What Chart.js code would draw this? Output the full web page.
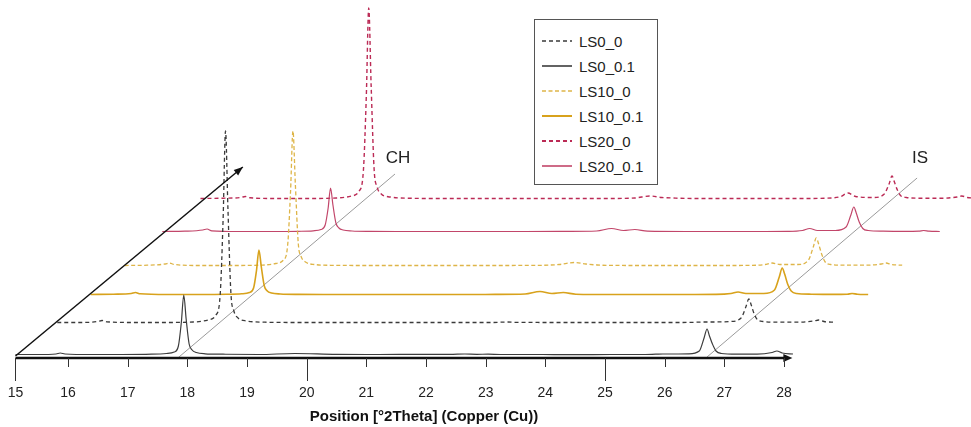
<!DOCTYPE html>
<html>
<head>
<meta charset="utf-8">
<script src="https://cdn.jsdelivr.net/npm/chart.js@4.4.1/dist/chart.umd.min.js"></script>
<style>
  body { margin: 0; background: #fff; }
  #wrap { position: relative; width: 971px; height: 427px; }
  #legend {
    position: absolute; left: 534px; top: 19px; width: 122px; height: 164px;
    border: 1px solid #555; background: #fff;
    font: 15px "Liberation Sans", Arial, sans-serif; color: #222;
  }
  #legend .item { position: absolute; left: 7px; height: 18px; display: flex; align-items: center; white-space: nowrap; }
  #legend svg { margin-right: 7px; }
</style>
</head>
<body>
<div id="wrap">
  <canvas id="chart" width="971" height="427"></canvas>
  <div id="legend"></div>
</div>
<script>
// position 2theta commune a toutes les courbes
const TWO_THETA = [15.12, 15.50, 15.80, 15.87, 15.95, 16.40, 16.90, 17.40, 17.65, 17.78,
                   17.85, 17.90, 17.94, 17.98, 18.03, 18.08, 18.15, 18.30, 18.60, 19.20,
                   19.80, 20.50, 21.20, 21.90, 22.40, 22.65, 22.85, 23.04, 23.25, 23.90,
                   24.50, 25.10, 25.60, 25.85, 25.97, 26.10, 26.40, 26.58, 26.66, 26.71,
                   26.75, 26.80, 26.86, 26.95, 27.20, 27.55, 27.80, 27.88, 27.97, 28.15];

// intensites (unites arbitraires, sans decalage)
const LS0_0 =    [0.5, 0.5, 1.5, 2.5, 1.2, 0.5, 0.5, 1, 3, 8,
                  28, 105, 192, 115, 30, 12, 5, 2, 0.8, 0.5,
                  0.5, 0.5, 0.5, 0.5, 0.5, 1, 0.6, 0.6, 0.5, 0.5,
                  0.5, 0.5, 0.5, 0.8, 1, 1, 1.5, 5, 16, 24,
                  18, 9, 3, 1.5, 0.8, 0.8, 2, 3, 1.5, 0.8];
const LS0_01 =   [0.5, 0.5, 1, 2, 1, 0.5, 0.5, 0.8, 1.5, 3,
                  9, 33, 60, 36, 11, 5, 2.5, 1.2, 0.8, 0.5,
                  1.5, 0.6, 0.5, 0.6, 0.6, 1, 0.7, 0.8, 0.5, 0.5,
                  0.4, 0.5, 0.5, 0.8, 1, 1, 1.2, 4, 17, 26,
                  19, 11, 4, 1.5, 0.8, 0.8, 2.5, 4, 2, 1];
const LS10_0 =   [0.5, 0.8, 2, 3, 1.5, 0.5, 0.5, 0.8, 2.5, 6,
                  20, 75, 135, 82, 22, 9, 4, 1.5, 0.7, 0.5,
                  0.5, 0.5, 0.5, 0.6, 1.5, 3.5, 2, 1, 0.6, 0.5,
                  0.5, 0.5, 0.6, 1.5, 3, 1.5, 1.5, 6, 19, 28,
                  22, 12, 4, 1.5, 0.8, 0.8, 2, 3, 1.5, 0.8];
const LS10_01 =  [0.5, 0.8, 1.5, 2.5, 1.2, 0.5, 0.5, 0.7, 1.2, 2.5,
                  7, 25, 45, 28, 9, 4, 2, 1, 0.6, 0.5,
                  0.5, 0.5, 0.5, 0.6, 1, 3.5, 1.5, 2.5, 0.8, 0.5,
                  0.5, 0.5, 0.6, 1.5, 3, 1.5, 1.5, 5, 18, 27,
                  21, 11, 4, 1.5, 0.8, 0.6, 0.8, 1.5, 0.8, 0.5];
const LS20_0 =   [0.5, 0.8, 1.5, 2.5, 1.2, 0.5, 0.5, 1, 3, 8,
                  28, 104, 191, 114, 30, 12, 5, 2, 0.8, 0.5,
                  0.5, 0.5, 0.5, 0.5, 1, 3, 1.5, 1, 0.6, 0.5,
                  0.5, 0.5, 0.8, 2.5, 6, 2.5, 1.5, 5, 15, 23,
                  17, 9, 3, 1.5, 0.8, 0.8, 2, 3, 1.5, 0.8];
const LS20_01 =  [0.5, 0.8, 2, 3, 1.2, 0.5, 0.5, 0.7, 1.2, 2.5,
                  7, 24, 44, 27, 9, 4, 2, 1, 0.6, 0.5,
                  0.5, 0.5, 0.5, 0.6, 1, 3.5, 1.5, 2.5, 0.8, 0.5,
                  0.5, 0.5, 0.6, 1.5, 3.5, 1.5, 1.5, 5, 17, 25,
                  19, 10, 3.5, 1.5, 0.8, 0.6, 0.8, 1.5, 0.8, 0.5];

const SERIES_NAMES = ['LS0_0', 'LS0_0.1', 'LS10_0', 'LS10_0.1', 'LS20_0', 'LS20_0.1'];
const SERIES_VALUES = [LS0_0, LS0_01, LS10_0, LS10_01, LS20_0, LS20_01];
const STACK_POS = [1, 0, 3, 2, 5, 4];   // rang dans la perspective

// decalage de chaque rang (en degres et en intensite)
const X_SHIFT = [0, 0.70, 1.26, 1.83, 2.46, 3.10];
const Y_SHIFT = [3, 35, 63, 92, 126, 159];

// axe
const TICK_VALUES = [15.12, 16, 17, 18, 19, 20, 21, 22, 23, 24, 25, 26, 27, 28];
const MAJOR_TICKS = [15, 20, 25];
const AXIS_END = 28.14;
const X_TITLE = 'Position [°2Theta] (Copper (Cu))';

// reperes CH / IS et fleche de profondeur
const GUIDE_LABELS = ['CH', 'IS'];
const GUIDE_X = [[17.84, 21.48], [26.71, 30.23]];
const GUIDE_Y = [[0, 184], [1, 180]];
const GUIDE_TEXT_X = [21.53, 30.28];
const GUIDE_TEXT_Y = [200, 200];
const ARROW_X = [15.12, 18.93];
const ARROW_Y = [2, 191];

const STYLES = [
    { color: '#3a3a3a', dash: [4, 3], width: 1.3 },
    { color: '#3c3c3c', dash: [], width: 1.2 },
    { color: '#deb548', dash: [4, 2.5], width: 1.3 },
    { color: '#d8a21c', dash: [], width: 1.6 },
    { color: '#bb2a55', dash: [4, 3], width: 1.4 },
    { color: '#c2466a', dash: [], width: 1.2 },
]

const FONT = '"Liberation Sans", Arial, sans-serif';
Chart.defaults.font.family = FONT;

/** Construit une courbe decalee */
function shiftedTrace( values, pos ) {
    return TWO_THETA.map( ( t, i ) => ( { x: t + X_SHIFT[ pos ], y: values[ i ] + Y_SHIFT[ pos ] } ) )
}

let datasets = SERIES_NAMES.map( ( name, i ) => ( {
    label: name,
    data: shiftedTrace( SERIES_VALUES[ i ], STACK_POS[ i ] ),
    borderColor: STYLES[ i ].color,
    borderDash: STYLES[ i ].dash,
    borderWidth: STYLES[ i ].width,
    pointRadius: 0,
    cubicInterpolationMode: 'monotone',
    clip: false,
    order: STACK_POS[ i ],
} ) )

GUIDE_LABELS.forEach( ( g, k ) => {
    datasets.push( {
        label: g,
        guide: true,
        data: [ { x: GUIDE_X[ k ][ 0 ], y: GUIDE_Y[ k ][ 0 ] }, { x: GUIDE_X[ k ][ 1 ], y: GUIDE_Y[ k ][ 1 ] } ],
        borderColor: '#9a9a9a',
        borderWidth: 1,
        pointRadius: 0,
        clip: false,
        order: 10,
    } )
} )

// axe, graduations, fleche et textes CH / IS
const xrdDecor = {
    id: 'xrdDecor',
    afterDatasetsDraw( chart ) {
        const ctx = chart.ctx
        const xs = chart.scales.x, ys = chart.scales.y
        const y0 = ys.getPixelForValue( 0 )
        ctx.save()

        // fleche de profondeur
        const ax0 = xs.getPixelForValue( ARROW_X[ 0 ] ), ay0 = ys.getPixelForValue( ARROW_Y[ 0 ] )
        const ax1 = xs.getPixelForValue( ARROW_X[ 1 ] ), ay1 = ys.getPixelForValue( ARROW_Y[ 1 ] )
        ctx.strokeStyle = '#111'
        ctx.fillStyle = '#111'
        ctx.lineWidth = 1.5
        ctx.beginPath()
        ctx.moveTo( ax0, ay0 )
        ctx.lineTo( ax1, ay1 )
        ctx.stroke()
        const ang = Math.atan2( ay1 - ay0, ax1 - ax0 )
        ctx.beginPath()
        ctx.moveTo( ax1, ay1 )
        ctx.lineTo( ax1 - 9 * Math.cos( ang ) + 3.5 * Math.sin( ang ), ay1 - 9 * Math.sin( ang ) - 3.5 * Math.cos( ang ) )
        ctx.lineTo( ax1 - 9 * Math.cos( ang ) - 3.5 * Math.sin( ang ), ay1 - 9 * Math.sin( ang ) + 3.5 * Math.cos( ang ) )
        ctx.closePath()
        ctx.fill()

        // axe x
        const xa = xs.getPixelForValue( TICK_VALUES[ 0 ] ), xb = xs.getPixelForValue( AXIS_END )
        ctx.lineWidth = 2.5
        ctx.beginPath()
        ctx.moveTo( xa, y0 )
        ctx.lineTo( xb - 6, y0 )
        ctx.stroke()
        ctx.beginPath()
        ctx.moveTo( xb, y0 )
        ctx.lineTo( xb - 9, y0 - 4 )
        ctx.lineTo( xb - 9, y0 + 4 )
        ctx.closePath()
        ctx.fill()

        // graduations
        ctx.lineWidth = 1
        ctx.strokeStyle = '#333'
        TICK_VALUES.forEach( v => {
            const px = Math.round( xs.getPixelForValue( v ) ) + 0.5
            const major = MAJOR_TICKS.includes( Math.round( v ) )
            ctx.beginPath()
            ctx.moveTo( px, y0 )
            ctx.lineTo( px, y0 + ( major ? 23 : 9 ) )
            ctx.stroke()
        } )

        // textes CH / IS
        ctx.fillStyle = '#222'
        ctx.font = '17px ' + FONT
        ctx.textAlign = 'center'
        ctx.textBaseline = 'middle'
        GUIDE_LABELS.forEach( ( g, k ) => {
            ctx.fillText( g, xs.getPixelForValue( GUIDE_TEXT_X[ k ] ), ys.getPixelForValue( GUIDE_TEXT_Y[ k ] ) )
        } )
        ctx.restore()
    }
}

const chart = new Chart( document.getElementById( 'chart' ), {
    type: 'line',
    data: { datasets: datasets },
    options: {
        responsive: false,
        animation: false,
        devicePixelRatio: 1,
        layout: { autoPadding: false, padding: { left: 0, right: 123, top: 0, bottom: 0 } },
        plugins: {
            legend: { display: false },
            tooltip: { enabled: false },
        },
        scales: {
            x: {
                type: 'linear',
                bounds: 'data',
                border: { display: false },
                grid: { display: false, drawTicks: false },
                // bornes fixees ici pour que les courbes decalees soient dessinees jusqu'au bout
                afterDataLimits: s => { s.min = 14.8604; s.max = 29.072 },
                afterBuildTicks: s => { s.ticks = TICK_VALUES.map( v => ( { value: v } ) ) },
                // hauteur fixe de l'axe, pas de marge laterale automatique
                afterFit: s => { s.height = 69; s.paddingLeft = 0; s.paddingRight = 0 },
                ticks: {
                    padding: 27,
                    color: '#222',
                    font: { size: 14 },
                    maxRotation: 0,
                    autoSkip: false,
                    callback: v => String( Math.round( v ) ),
                },
                title: {
                    display: true,
                    text: X_TITLE,
                    color: '#111',
                    font: { size: 15, weight: 'bold' },
                    padding: { top: 4, bottom: 1 },
                },
            },
            y: { type: 'linear', display: false, min: 0, max: 358 },
        },
    },
    plugins: [ xrdDecor ],
} );

// legende HTML construite depuis les datasets
const legend = document.getElementById( 'legend' )
chart.data.datasets.filter( d => !d.guide ).forEach( ( d, i ) => {
    const item = document.createElement( 'div' )
    item.className = 'item'
    item.style.top = ( 12 + i * 25 ) + 'px'
    const dash = d.borderDash.length ? d.borderDash.join( ' ' ) : 'none'
    item.innerHTML = '<svg width="30" height="6"><line x1="0" y1="3" x2="30" y2="3" stroke="' + d.borderColor +
        '" stroke-width="' + ( d.borderWidth + 0.4 ) + '" stroke-dasharray="' + dash + '"/></svg><span>' + d.label + '</span>'
    legend.appendChild( item )
} )
</script>
</body>
</html>
